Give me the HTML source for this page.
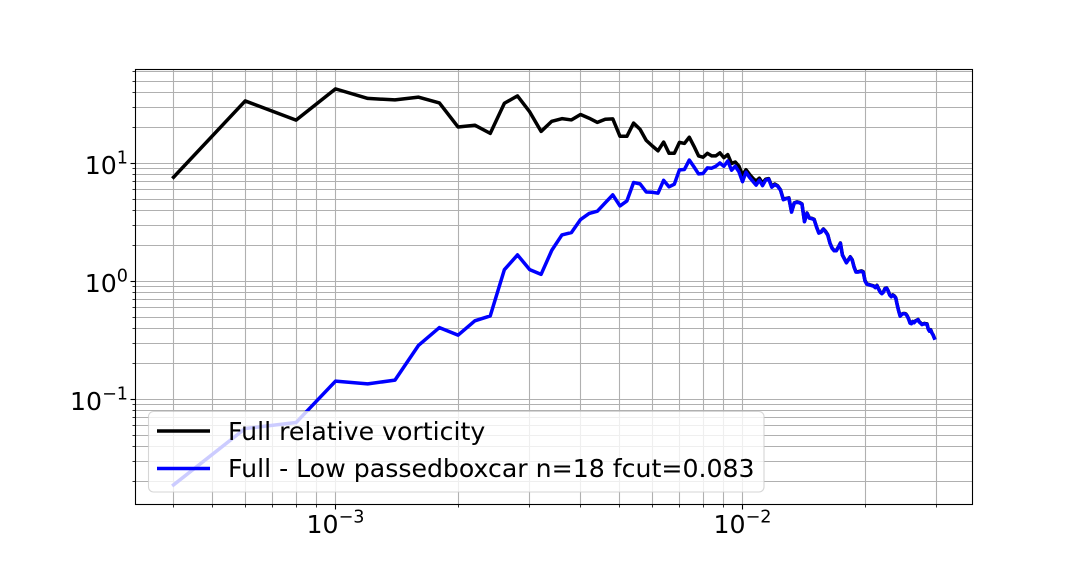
<!DOCTYPE html>
<html>
<head>
<meta charset="utf-8">
<title>Spectrum chart</title>
<style>
html,body{margin:0;padding:0;background:#fff;width:1080px;height:576px;overflow:hidden}
svg{display:block;font-family:"DejaVu Sans","Liberation Sans",sans-serif}
</style>
</head>
<body>
<svg id="chart" xmlns="http://www.w3.org/2000/svg" width="1080" height="576" viewBox="0 0 1080 576">
  <rect x="0" y="0" width="1080" height="576" fill="#fff"/>
  <g id="grid"></g>
  <g id="series"></g>
  <g id="ticks"></g>
  <rect x="135.5" y="69.5" width="837" height="435" fill="none" stroke="#000" stroke-width="1.1"/>
  <g id="labels"></g>
  <g>
    <rect x="148.5" y="411.5" width="615.5" height="80.5" rx="5" ry="5" fill="#fff" fill-opacity="0.8" stroke="#ccc" stroke-opacity="0.8" stroke-width="1.1"/>
    <line x1="157" y1="431" x2="210" y2="431" stroke="#000" stroke-width="3.5"/>
    <text x="228" y="440" font-size="25.2" fill="#000">Full relative vorticity</text>
    <line x1="157" y1="468.5" x2="210" y2="468.5" stroke="#00f" stroke-width="3.5"/>
    <text x="228" y="477" font-size="25.2" fill="#000">Full - Low passedboxcar n=18 fcut=0.083</text>
  </g>
</svg>
<script>
const frequencies = [
0.0004,0.0006,0.0008,0.0010,0.0012,0.0014,0.0016,0.0018,0.0020,0.0022,
0.0024,0.0026,0.0028,0.0030,0.0032,0.0034,0.0036,0.0038,0.0040,0.0042,
0.0044,0.0046,0.0048,0.0050,0.0052,0.0054,0.0056,0.0058,0.0060,0.0062,
0.0064,0.0066,0.0068,0.0070,0.0072,0.0074,0.0076,0.0078,0.0080,0.0082,
0.0084,0.0086,0.0088,0.0090,0.0092,0.0094,0.0096,0.0098,
0.0100,0.0102,0.0104,0.0106,0.0108,0.0110,0.0112,0.0114,0.0116,0.0118,
0.0120,0.0122,0.0124,0.0126,0.0128,0.0130,0.0132,0.0134,0.0136,0.0138,
0.0140,0.0142,0.0144,0.0146,0.0148,0.0150,0.0152,0.0154,0.0156,0.0158,
0.0160,0.0162,0.0164,0.0166,0.0168,0.0170,0.0172,0.0174,0.0176,0.0178,
0.0180,0.0182,0.0184,0.0186,0.0188,0.0190,0.0192,0.0194,0.0196,0.0198,
0.0200,0.0202,0.0204,0.0206,0.0208,0.0210,0.0212,0.0214,0.0216,0.0218,
0.0220,0.0222,0.0224,0.0226,0.0228,0.0230,0.0232,0.0234,0.0236,0.0238,
0.0240,0.0242,0.0244,0.0246,0.0248,0.0250,0.0252,0.0254,0.0256,0.0258,
0.0260,0.0262,0.0264,0.0266,0.0268,0.0270,0.0272,0.0274,0.0276,0.0278,
0.0280,0.0282,0.0284,0.0286,0.0288,0.0290,0.0292,0.0294,0.0296];

const fullVorticity = [
7.65,33.9,23.3,42.9,35.6,34.6,36.5,32.6,20.4,21.1,
18.0,32.4,37.4,27.4,18.7,22.8,24.0,23.4,26.0,24.2,
22.3,23.7,23.9,17.0,17.0,22.0,19.5,15.7,14.1,12.8,
15.2,12.2,12.2,15.1,14.8,16.7,14.0,11.6,11.3,12.2,
11.6,11.6,12.3,11.2,11.9,10.0,10.3,9.5,
7.96,8.86,8.11,7.51,7.08,7.51,6.81,7.36,7.45,6.42,
6.70,6.48,5.98,4.97,5.06,5.12,3.90,4.64,4.73,4.68,
4.55,3.23,3.81,3.46,3.43,3.36,2.91,2.59,2.64,2.79,
2.66,2.49,2.12,1.92,1.83,1.83,1.96,2.12,1.68,1.56,
1.45,1.53,1.62,1.53,1.33,1.21,1.21,1.22,1.23,1.21,
1.02,0.955,0.946,0.936,0.927,0.918,0.892,0.927,0.866,0.817,
0.793,0.817,0.875,0.883,0.833,0.771,0.748,0.771,0.756,0.727,
0.634,0.564,0.511,0.527,0.536,0.536,0.531,0.511,0.482,0.446,
0.442,0.459,0.450,0.464,0.469,0.477,0.455,0.446,0.434,0.438,
0.442,0.438,0.438,0.397,0.381,0.390,0.367,0.353,0.333];

const fullMinusLow = [
0.0189,0.0568,0.0638,0.143,0.1356,0.146,0.288,0.407,0.351,0.464,
0.511,1.26,1.68,1.26,1.15,1.84,2.48,2.60,3.35,3.77,
3.94,4.64,5.42,4.37,4.82,6.90,6.72,5.74,5.71,5.60,
7.20,6.34,6.68,8.83,8.90,10.7,9.36,8.16,8.23,9.18,
9.12,9.48,10.1,9.48,10.5,8.77,9.48,8.50,
7.01,8.44,7.65,7.08,6.55,7.22,6.49,7.22,7.36,6.30,
6.61,6.42,5.94,4.93,5.03,5.08,3.87,4.61,4.70,4.65,
4.52,3.21,3.79,3.44,3.41,3.34,2.89,2.57,2.62,2.77,
2.64,2.47,2.11,1.91,1.82,1.82,1.95,2.11,1.67,1.55,
1.44,1.52,1.61,1.52,1.32,1.20,1.20,1.21,1.22,1.20,
1.01,0.949,0.940,0.930,0.921,0.912,0.886,0.921,0.860,0.812,
0.788,0.812,0.869,0.877,0.828,0.766,0.743,0.766,0.751,0.722,
0.630,0.560,0.508,0.524,0.533,0.533,0.528,0.508,0.479,0.443,
0.439,0.456,0.447,0.461,0.466,0.474,0.452,0.443,0.431,0.435,
0.439,0.435,0.435,0.394,0.379,0.387,0.365,0.351,0.331];

const xMajorTicks = [0.001, 0.01];
const xMajorLabels = ["\u22123", "\u22122"];
const xMinorTicks = [0.0004,0.0005,0.0006,0.0007,0.0008,0.0009,0.002,0.003,0.004,0.005,0.006,0.007,0.008,0.009,0.02,0.03];
const yMajorTicks = [10, 1, 0.1];
const yMajorLabels = ["1", "0", "\u22121"];
const yMinorTicks = [60,50,40,30,20,9,8,7,6,5,4,3,2,0.9,0.8,0.7,0.6,0.5,0.4,0.3,0.2,0.09,0.08,0.07,0.06,0.05,0.04,0.03,0.02];

const NS = 'http://www.w3.org/2000/svg';
const AXIS_LEFT = 135.5, AXIS_RIGHT = 972.5, AXIS_TOP = 69.5, AXIS_BOTTOM = 504.5;

function xScale(f) { return 335.5 + 407 * (Math.log10(f) + 3); }
function yScale(v) { return 281.5 - 118 * Math.log10(v); }
function snap(p) { return Math.round(p - 0.5) + 0.5; }

function makeLine(parent, x1, y1, x2, y2, stroke, width) {
  const el = document.createElementNS(NS, 'line');
  el.setAttribute('x1', x1);
  el.setAttribute('y1', y1);
  el.setAttribute('x2', x2);
  el.setAttribute('y2', y2);
  el.setAttribute('stroke', stroke);
  el.setAttribute('stroke-width', width);
  parent.appendChild(el);
  return el;
}

const gridG = document.getElementById('grid');
const ticksG = document.getElementById('ticks');
const labelsG = document.getElementById('labels');
const seriesG = document.getElementById('series');

xMajorTicks.concat(xMinorTicks).forEach(function (f) {
  const x = snap(xScale(f));
  const el = makeLine(gridG, x, AXIS_TOP, x, AXIS_BOTTOM, '#b0b0b0', 1.1);
  
  
});
yMajorTicks.concat(yMinorTicks).forEach(function (v) {
  const y = snap(yScale(v));
  const el = makeLine(gridG, AXIS_LEFT, y, AXIS_RIGHT, y, '#b0b0b0', 1.1);
  
  
});

xMajorTicks.forEach(function (f) {
  const x = snap(xScale(f));
  const el = makeLine(ticksG, x, AXIS_BOTTOM, x, AXIS_BOTTOM + 5, '#000', 1.1);
  
  
});
xMinorTicks.forEach(function (f) {
  const x = snap(xScale(f));
  const el = makeLine(ticksG, x, AXIS_BOTTOM, x, AXIS_BOTTOM + 3, '#000', 0.8);
  
  
});
yMajorTicks.forEach(function (v) {
  const y = snap(yScale(v));
  const el = makeLine(ticksG, AXIS_LEFT - 5, y, AXIS_LEFT, y, '#000', 1.1);
  
  
});
yMinorTicks.forEach(function (v) {
  const y = snap(yScale(v));
  const el = makeLine(ticksG, AXIS_LEFT - 3, y, AXIS_LEFT, y, '#000', 0.8);
  
  
});

function makeExponentLabel(x, y, anchor, exponent) {
  const t = document.createElementNS(NS, 'text');
  t.setAttribute('x', x);
  t.setAttribute('y', y);
  t.setAttribute('text-anchor', anchor);
  t.setAttribute('font-size', '25.2');
  t.setAttribute('fill', '#000');
  const base = document.createElementNS(NS, 'tspan');
  base.textContent = '10';
  t.appendChild(base);
  const sup = document.createElementNS(NS, 'tspan');
  sup.setAttribute('font-size', '17.6');
  sup.setAttribute('dy', '-10.5');
  sup.textContent = exponent;
  t.appendChild(sup);
  labelsG.appendChild(t);
  return t;
}

xMajorTicks.forEach(function (f, i) {
  const t = makeExponentLabel(xScale(f), 533, 'middle', xMajorLabels[i]);
  
  
});
yMajorTicks.forEach(function (v, i) {
  const t = makeExponentLabel(128, yScale(v) + 10.5, 'end', yMajorLabels[i]);
  
  
});

function makeSeries(values, color) {
  const d = values.map(function (v, i) {
    return (i ? 'L' : 'M') + xScale(frequencies[i]).toFixed(2) + ' ' + yScale(v).toFixed(2);
  }).join(' ');
  const p = document.createElementNS(NS, 'path');
  p.setAttribute('d', d);
  p.setAttribute('fill', 'none');
  p.setAttribute('stroke', color);
  p.setAttribute('stroke-width', '3.5');
  p.setAttribute('stroke-linejoin', 'round');
  p.setAttribute('stroke-linecap', 'square');
  seriesG.appendChild(p);
  return p;
}

const blackLine = makeSeries(fullVorticity, '#000');


const blueLine = makeSeries(fullMinusLow, '#00f');


</script>
</body>
</html>
